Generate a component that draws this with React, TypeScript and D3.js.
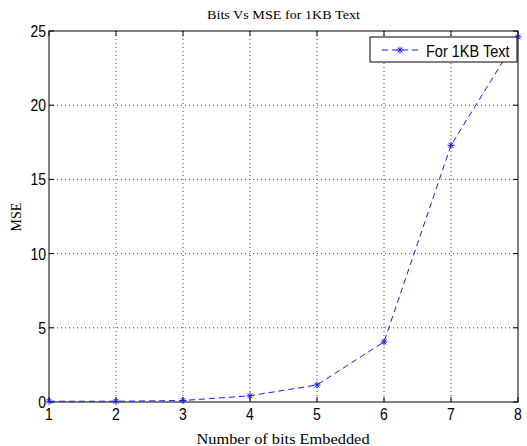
import React from "react";
import * as d3 from "d3";

const bits = [1, 2, 3, 4, 5, 6, 7, 8];
const mse = [0.05, 0.05, 0.1, 0.42, 1.15, 4.05, 17.3, 24.6];
const xTicks = [1, 2, 3, 4, 5, 6, 7, 8];
const yTicks = [0, 5, 10, 15, 20, 25];
const title = "Bits Vs MSE for 1KB Text";
const xLabel = "Number of bits Embedded";
const yLabel = "MSE";
const legendLabel = "For 1KB Text";

export default function App() {
  const W = 527, H = 446;
  const L = 49, R = 518, T = 31, B = 402;
  const x = d3.scaleLinear().domain([1, 8]).range([L, R]);
  const y = d3.scaleLinear().domain([0, 25]).range([B, T]);
  const line = d3.line<number>().x((_, i) => x(bits[i])).y((d) => y(d));
  const blue = "#1a1aff";
  const star = (cx: number, cy: number, k: string) => {
    const s = 3.5;
    return (
      <g key={k} stroke={blue} strokeWidth={1}>
        <line x1={cx - s} y1={cy} x2={cx + s} y2={cy} />
        <line x1={cx} y1={cy - s} x2={cx} y2={cy + s} />
        <line x1={cx - s * 0.7} y1={cy - s * 0.7} x2={cx + s * 0.7} y2={cy + s * 0.7} />
        <line x1={cx - s * 0.7} y1={cy + s * 0.7} x2={cx + s * 0.7} y2={cy - s * 0.7} />
      </g>
    );
  };
  const sans = "'Liberation Sans', Arial, sans-serif";
  const serif = "'Liberation Serif', 'Times New Roman', serif";
  return (
    <svg width={W} height={H} style={{ position: "absolute", left: 0, top: 0 }}>
      <rect x={0} y={0} width={W} height={H} fill="#fff" />
      {/* grid */}
      {xTicks.slice(1, -1).map((t) => (
        <line key={"gx" + t} x1={x(t)} x2={x(t)} y1={T} y2={B} stroke="#444" strokeWidth={1} strokeDasharray="1,3" />
      ))}
      {yTicks.slice(1, -1).map((t) => (
        <line key={"gy" + t} x1={L} x2={R} y1={y(t)} y2={y(t)} stroke="#444" strokeWidth={1} strokeDasharray="1,3" />
      ))}
      {/* ticks */}
      {xTicks.map((t) => (
        <g key={"tx" + t} stroke="#000">
          <line x1={x(t)} x2={x(t)} y1={B} y2={B - 5} />
          <line x1={x(t)} x2={x(t)} y1={T} y2={T + 5} />
        </g>
      ))}
      {yTicks.map((t) => (
        <g key={"ty" + t} stroke="#000">
          <line x1={L} x2={L + 5} y1={y(t)} y2={y(t)} />
          <line x1={R} x2={R - 5} y1={y(t)} y2={y(t)} />
        </g>
      ))}
      <rect x={L} y={T} width={R - L} height={B - T} fill="none" stroke="#000" strokeWidth={1} />
      {/* tick labels */}
      {xTicks.map((t) => (
        <text key={"lx" + t} transform={`translate(${x(t)},${B + 18}) scale(1,1.2)`} textAnchor="middle" fontFamily={sans} fontSize={14}>{t}</text>
      ))}
      {yTicks.map((t) => (
        <text key={"ly" + t} transform={`translate(${L - 3},${y(t) + 6}) scale(1,1.2)`} textAnchor="end" fontFamily={sans} fontSize={14}>{t}</text>
      ))}
      {/* data */}
      <path d={line(mse) || ""} fill="none" stroke={blue} strokeWidth={1} strokeDasharray="6,4" />
      {mse.map((v, i) => star(x(bits[i]), y(v), "m" + i))}
      {/* legend */}
      <rect x={370} y={37} width={147} height={25} fill="#fff" stroke="#000" strokeWidth={1} />
      <line x1={382} x2={422} y1={50} y2={50} stroke={blue} strokeDasharray="6,4" />
      {star(400, 50, "leg")}
      <text transform="translate(426,56.5) scale(1,1.15)" fontFamily={sans} fontSize={14.5}>{legendLabel}</text>
      {/* titles */}
      <text transform={`translate(${(L + R) / 2},18.5) scale(1.09,1)`} textAnchor="middle" fontFamily={serif} fontSize={13}>{title}</text>
      <text transform={`translate(${(L + R) / 2 - 0.5},444) scale(1.17,1)`} textAnchor="middle" fontFamily={serif} fontSize={14}>{xLabel}</text>
      <text transform={`translate(21, 217) rotate(-90)`} textAnchor="middle" fontFamily={serif} fontSize={14}>{yLabel}</text>
    </svg>
  );
}
